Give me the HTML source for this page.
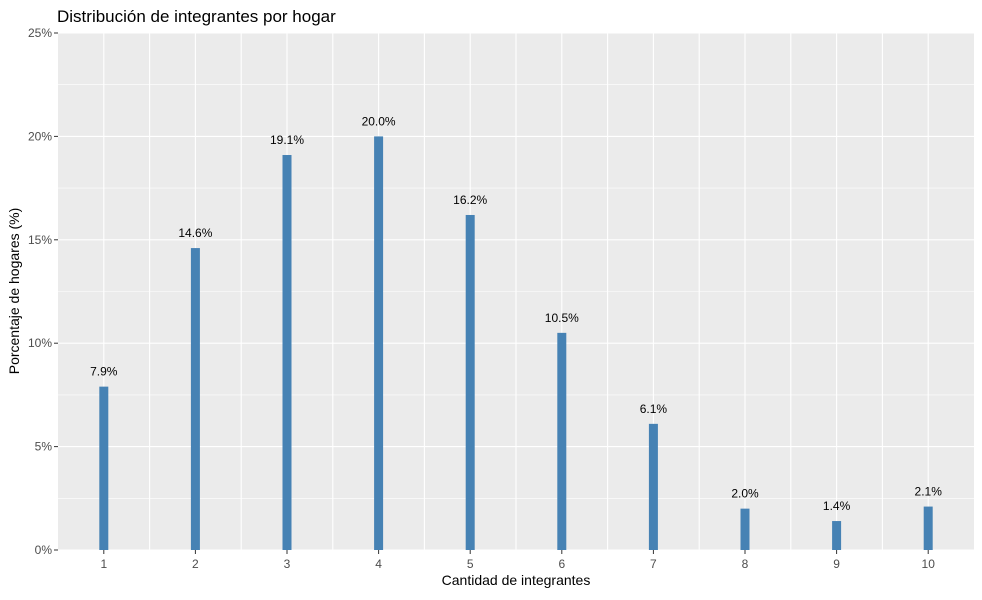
<!DOCTYPE html>
<html><head><meta charset="utf-8"><style>
body{margin:0;background:#fff;font-family:"Liberation Sans",Arial,sans-serif}
</style></head><body>
<svg id="chart" width="982" height="595" xmlns="http://www.w3.org/2000/svg" font-family="Liberation Sans, Arial, sans-serif">
<text x="57" y="22" font-size="17" fill="#000">Distribución de integrantes por hogar</text>
<rect x="58" y="33" width="916" height="517" fill="#ebebeb"/>
<g id="grid"></g><g id="bars"></g><g id="axes"></g>
<text x="516" y="585" font-size="14" text-anchor="middle" fill="#000">Cantidad de integrantes</text>
<text transform="translate(19,291) rotate(-90)" font-size="14" text-anchor="middle" fill="#000">Porcentaje de hogares (%)</text>
</svg>
<script>
const categories=[1,2,3,4,5,6,7,8,9,10];
const values=[7.9,14.6,19.1,20.0,16.2,10.5,6.1,2.0,1.4,2.1];
const yTicks=[0,5,10,15,20,25];
const ns="http://www.w3.org/2000/svg";
const L=58,R=974,T=33,B=550;
const x=v=>L+(v-0.5)/10*(R-L);
const y=v=>B-v/25*(B-T);
function mk(tag,attrs,parent,txt){const e=document.createElementNS(ns,tag);for(const k in attrs)e.setAttribute(k,attrs[k]);if(txt!==undefined)e.textContent=txt;document.getElementById(parent).appendChild(e);return e;}
for(let i=0;i<yTicks.length;i++){
 const t=yTicks[i];
 const g=mk('line',{x1:L,x2:R,y1:y(t),y2:y(t),stroke:'#fff','stroke-width':1.1},'grid');
 
 
 if(i<yTicks.length-1){const m=mk('line',{x1:L,x2:R,y1:y(t+2.5),y2:y(t+2.5),stroke:'#fff','stroke-width':0.6},'grid');
 
 }
 const tk=mk('line',{x1:L-4,x2:L,y1:y(t),y2:y(t),stroke:'#333','stroke-width':1},'axes');
 
 
 const lb=mk('text',{x:L-6,y:y(t)+4,'font-size':12,'text-anchor':'end',fill:'#4d4d4d'},'axes',t+'%');
 
 
}
for(let i=0;i<categories.length;i++){
 const c=categories[i];
 const g=mk('line',{x1:x(c),x2:x(c),y1:T,y2:B,stroke:'#fff','stroke-width':1.1},'grid');
 
 
 if(i<categories.length-1){const m=mk('line',{x1:x(c+0.5),x2:x(c+0.5),y1:T,y2:B,stroke:'#fff','stroke-width':1.1},'grid');
 
 }
 const w=9;
 const b=mk('rect',{x:x(c)-w/2,y:y(values[i]),width:w,height:B-y(values[i]),fill:'#4682b4'},'bars');
 
 
 const v=mk('text',{x:x(c),y:y(values[i])-11,'font-size':12,'text-anchor':'middle',fill:'#000'},'bars',values[i].toFixed(1)+'%');
 
 
 const tk=mk('line',{x1:x(c),x2:x(c),y1:B,y2:B+4,stroke:'#333','stroke-width':1},'axes');
 
 
 const lb=mk('text',{x:x(c),y:B+18,'font-size':12,'text-anchor':'middle',fill:'#4d4d4d'},'axes',String(c));
 
 
}
</script>
</body></html>
